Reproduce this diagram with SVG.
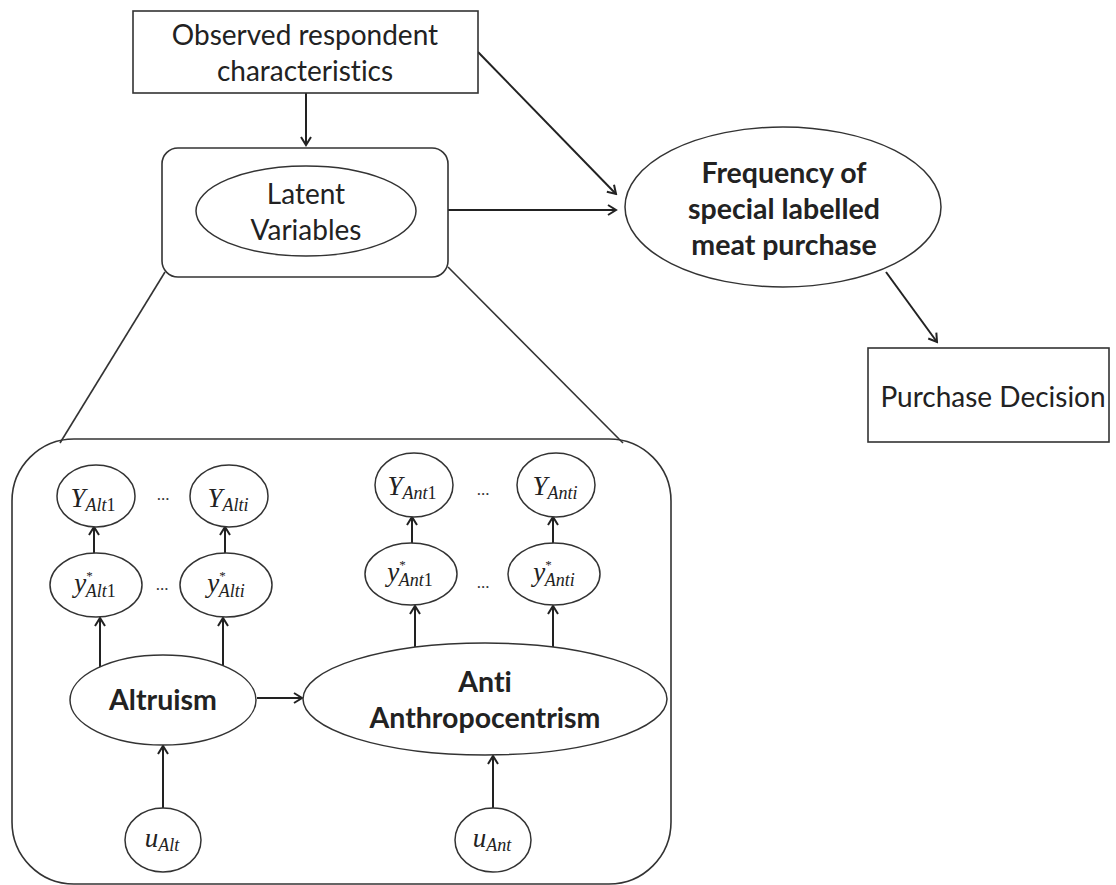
<svg xmlns="http://www.w3.org/2000/svg" width="1116" height="885" viewBox="0 0 1116 885">
  <defs>
    <marker id="arrow" markerUnits="userSpaceOnUse" markerWidth="14" markerHeight="14" viewBox="0 0 14 14" refX="12" refY="7" orient="auto">
      <path d="M4,2 L12,7 L4,12" fill="none" stroke="#222" stroke-width="2" stroke-linejoin="miter"/>
    </marker>
    <style>
      .box { fill: #fff; stroke: #333; stroke-width: 1.6; }
      .shape { fill: #fff; stroke: #333; stroke-width: 1.5; }
      .edge { fill: none; stroke: #222; stroke-width: 2; marker-end: url(#arrow); }
      .link { fill: none; stroke: #333; stroke-width: 1.6; }
      .lbl { font-family: "Lato", "Liberation Sans", sans-serif; font-size: 28px; fill: #222; text-anchor: middle; font-variant-ligatures: none; font-feature-settings: "liga" 0, "dlig" 0; }
      .bold { font-weight: bold; font-size: 28.5px; }
      .m { font-family: "Liberation Serif", serif; font-style: italic; font-size: 27px; fill: #222; text-anchor: middle; }
      .sub { font-size: 18px; }
      .star { font-size: 13px; font-style: normal; }
      .up { font-style: normal; }
      .dots { font-family: "Liberation Serif", serif; font-size: 17px; fill: #333; text-anchor: middle; }
    </style>
  </defs>

  <!-- enclosing panel for the measurement model -->
  <g id="latent-detail">
    <rect class="box" x="12" y="439" width="659" height="445" rx="62" ry="62"/>
  </g>

  <g id="connectors">
    <!-- expansion lines from the latent box to the detail panel -->
    <line class="link" x1="165" y1="272" x2="60" y2="443"/>
    <line class="link" x1="448" y1="267" x2="623" y2="443"/>
    <!-- top-level structure -->
    <line class="edge" x1="306" y1="93" x2="306" y2="145"/>
    <line class="edge" x1="448" y1="210" x2="616" y2="210"/>
    <line class="edge" x1="478" y1="52" x2="616" y2="194"/>
    <line class="edge" x1="886" y1="272" x2="937" y2="342"/>
    <!-- indicators -->
    <line class="edge" x1="94" y1="553" x2="94" y2="527"/>
    <line class="edge" x1="225" y1="553" x2="225" y2="527"/>
    <line class="edge" x1="412" y1="543" x2="412" y2="517"/>
    <line class="edge" x1="553" y1="543" x2="553" y2="517"/>
    <line class="edge" x1="100" y1="668" x2="100" y2="618"/>
    <line class="edge" x1="223" y1="668" x2="223" y2="618"/>
    <line class="edge" x1="415" y1="647" x2="415" y2="606"/>
    <line class="edge" x1="553" y1="647" x2="553" y2="606"/>
    <!-- structural paths -->
    <line class="edge" x1="257" y1="698" x2="302" y2="698"/>
    <line class="edge" x1="163" y1="808" x2="163" y2="746"/>
    <line class="edge" x1="493" y1="808" x2="493" y2="756"/>
  </g>

  <g id="observed">
    <rect class="box" x="133" y="11" width="345" height="82"/>
    <text class="lbl" x="305" y="45">Observed respondent</text>
    <text class="lbl" x="305" y="81">characteristics</text>
  </g>

  <g id="latent">
    <rect class="box" x="162" y="148" width="286" height="129" rx="16" ry="16"/>
    <ellipse class="shape" cx="306" cy="211" rx="110" ry="45"/>
    <text class="lbl" x="306" y="204">Latent</text>
    <text class="lbl" x="306" y="240">Variables</text>
  </g>

  <g id="frequency">
    <ellipse class="shape" cx="783" cy="207" rx="158" ry="80"/>
    <text class="lbl bold" x="784" y="183">Frequency of</text>
    <text class="lbl bold" x="784" y="219">special labelled</text>
    <text class="lbl bold" x="784" y="255">meat purchase</text>
  </g>

  <g id="purchase">
    <rect class="box" x="868" y="348" width="241" height="94"/>
    <text class="lbl" x="993" y="407" font-size="27">Purchase Decision</text>
  </g>

  <g id="y-alt-1">
    <ellipse class="shape" cx="96" cy="496" rx="39" ry="31"/>
    <text class="m" x="93" y="507">Y<tspan class="sub" dy="4">Alt</tspan><tspan class="sub up">1</tspan></text>
  </g>
  <text class="dots" x="163" y="500">...</text>
  <g id="y-alt-i">
    <ellipse class="shape" cx="229" cy="496" rx="39" ry="31"/>
    <text class="m" x="228" y="507">Y<tspan class="sub" dy="4">Alti</tspan></text>
  </g>

  <g id="ystar-alt-1">
    <ellipse class="shape" cx="96" cy="585" rx="46" ry="32"/>
    <text class="m" x="95" y="592">y<tspan class="star" dy="-12">*</tspan><tspan class="sub" dx="-7" dy="17">Alt</tspan><tspan class="sub up">1</tspan></text>
  </g>
  <text class="dots" x="162" y="590">...</text>
  <g id="ystar-alt-i">
    <ellipse class="shape" cx="226" cy="585" rx="46" ry="32"/>
    <text class="m" x="226" y="592">y<tspan class="star" dy="-12">*</tspan><tspan class="sub" dx="-7" dy="17">Alti</tspan></text>
  </g>

  <g id="y-ant-1">
    <ellipse class="shape" cx="414" cy="485" rx="39" ry="32"/>
    <text class="m" x="412" y="495">Y<tspan class="sub" dy="4">Ant</tspan><tspan class="sub up">1</tspan></text>
  </g>
  <text class="dots" x="483" y="495">...</text>
  <g id="y-ant-i">
    <ellipse class="shape" cx="556" cy="485" rx="39" ry="32"/>
    <text class="m" x="555" y="495">Y<tspan class="sub" dy="4">Anti</tspan></text>
  </g>

  <g id="ystar-ant-1">
    <ellipse class="shape" cx="411" cy="574" rx="46" ry="31"/>
    <text class="m" x="410" y="581">y<tspan class="star" dy="-12">*</tspan><tspan class="sub" dx="-7" dy="17">Ant</tspan><tspan class="sub up">1</tspan></text>
  </g>
  <text class="dots" x="483" y="588">...</text>
  <g id="ystar-ant-i">
    <ellipse class="shape" cx="554" cy="574" rx="46" ry="31"/>
    <text class="m" x="554" y="581">y<tspan class="star" dy="-12">*</tspan><tspan class="sub" dx="-7" dy="17">Anti</tspan></text>
  </g>

  <g id="altruism">
    <ellipse class="shape" cx="163" cy="700" rx="93" ry="45"/>
    <text class="lbl bold" x="163" y="710">Altruism</text>
  </g>

  <g id="anti-anthropocentrism">
    <ellipse class="shape" cx="485" cy="699" rx="182" ry="56"/>
    <text class="lbl bold" x="485" y="692">Anti</text>
    <text class="lbl bold" x="485" y="728">Anthropocentrism</text>
  </g>

  <g id="u-alt">
    <ellipse class="shape" cx="163" cy="840" rx="38" ry="32"/>
    <text class="m" x="162" y="847">u<tspan class="sub" dy="4">Alt</tspan></text>
  </g>

  <g id="u-ant">
    <ellipse class="shape" cx="493" cy="840" rx="38" ry="32"/>
    <text class="m" x="492" y="847">u<tspan class="sub" dy="4">Ant</tspan></text>
  </g>
</svg>
